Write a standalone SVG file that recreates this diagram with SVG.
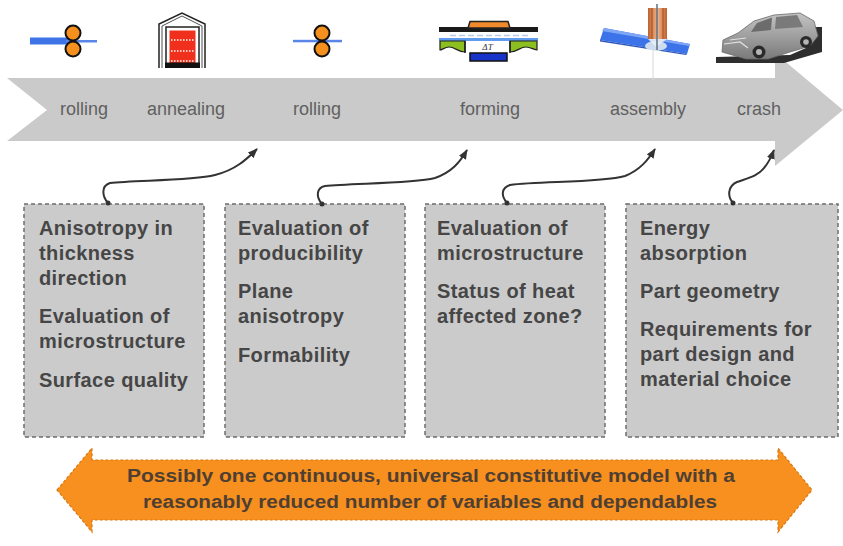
<svg xmlns="http://www.w3.org/2000/svg" width="843" height="546" viewBox="0 0 843 546">
  <style>
    .stage { font-family: "Liberation Sans", Arial, sans-serif; font-size: 18px; fill: #606060; text-anchor: middle; }
    .box { fill: #cbcbcb; stroke: #6e6e6e; stroke-width: 1.5; stroke-dasharray: 4 3; }
    .item { font-family: "Liberation Sans", Arial, sans-serif; font-size: 20px; font-weight: bold; fill: #464646; letter-spacing: 0.4px; }
    .link { fill: none; stroke: #333; stroke-width: 2; marker-end: url(#tip); }
    .roller { fill: #f5901e; stroke: #111; stroke-width: 2; }
    .model { font-family: "Liberation Sans", Arial, sans-serif; font-size: 18px; font-weight: bold; fill: #4f3f33; text-anchor: middle; }
  </style>
  <defs>
    <marker id="tip" viewBox="0 0 10 8" refX="9" refY="4" markerWidth="10" markerHeight="8" markerUnits="userSpaceOnUse" orient="auto">
      <path d="M0,0 L10,4 L0,8 Z" fill="#333"/>
    </marker>
    <linearGradient id="copper" x1="0" x2="1" y1="0" y2="0">
      <stop offset="0" stop-color="#c0602e"/>
      <stop offset="0.5" stop-color="#f0b48a"/>
      <stop offset="1" stop-color="#c0602e"/>
    </linearGradient>
    <linearGradient id="carbody" x1="0" x2="0" y1="0" y2="1">
      <stop offset="0" stop-color="#c4c4c4"/>
      <stop offset="1" stop-color="#7a7a7a"/>
    </linearGradient>
  </defs>

  <!-- process chain arrow -->
  <g id="chain">
    <path d="M7,78 L775,78 L775,53 L843,110 L775,166 L775,141 L7,141 L47,110 Z" fill="#cacaca"/>
    <line x1="653" y1="50" x2="653" y2="80" stroke="#d8d8d8" stroke-width="1"/>
  </g>

  <!-- stage icons -->
  <g id="icon-rolling-1">
    <rect x="30" y="37.5" width="40" height="7" fill="#3f74e6"/>
    <rect x="66" y="40" width="31" height="2.5" fill="#5a86e8"/>
    <circle class="roller" cx="73" cy="33" r="7.5"/>
    <circle class="roller" cx="73" cy="49" r="7.5"/>
  </g>
  <g id="icon-annealing">
    <path d="M159,68 V24 L182,13 L205,24 V68" fill="#fff" stroke="#222" stroke-width="1.5"/>
    <path d="M162,68 V26 L182,16 L202,26 V68" fill="none" stroke="#222" stroke-width="0.8"/>
    <rect x="166" y="27" width="33" height="37" fill="#fff" stroke="#222" stroke-width="1.5"/>
    <rect x="169.5" y="30.5" width="26" height="33" fill="#f0301c"/>
    <g stroke="#fff" stroke-width="1.4" stroke-dasharray="1.5 1.5">
      <line x1="171" y1="40" x2="194" y2="40"/>
      <line x1="171" y1="51" x2="194" y2="51"/>
      <line x1="171" y1="61" x2="194" y2="61"/>
    </g>
    <rect x="165" y="62.5" width="35" height="5.5" fill="#111"/>
  </g>
  <g id="icon-rolling-2">
    <rect x="293" y="39.8" width="49" height="2.5" fill="#5a86e8"/>
    <circle class="roller" cx="322" cy="33" r="7.5"/>
    <circle class="roller" cx="322" cy="49" r="7.5"/>
  </g>
  <g id="icon-forming">
    <rect x="439" y="27" width="99" height="5" fill="#1a1a1a"/>
    <path d="M470,21.5 H508 L510,28 H468 Z" fill="#f08a2a" stroke="#222" stroke-width="1.5"/>
    <rect x="440" y="33" width="97" height="5" fill="#fff"/>
    <line x1="450" y1="35.5" x2="528" y2="35.5" stroke="#b9c8ee" stroke-width="1.5" stroke-dasharray="6 3"/>
    <rect x="439" y="38" width="99" height="3" fill="#5f9cf0"/>
    <path d="M440,41 H465 V52 C458,52 455,47 449,47 C445,47 442,50 440,50 Z" fill="#8cc020" stroke="#222" stroke-width="1.2"/>
    <path d="M537,41 H510 V52 C517,52 520,47 526,47 C530,47 535,50 537,50 Z" fill="#8cc020" stroke="#222" stroke-width="1.2"/>
    <path d="M465,41 V53 M510,41 V53" stroke="#222" stroke-width="1.5"/>
    <text x="487.5" y="50" font-family="Liberation Serif, serif" font-size="9" font-style="italic" fill="#334" text-anchor="middle">ΔT</text>
    <path d="M470,53 H507 V61 H470 Z" fill="#1834c8" stroke="#111" stroke-width="1.5"/>
  </g>
  <g id="icon-assembly">
    <polygon points="604,28 690,44 687,54 600,40" fill="#3d73e8"/>
    <polygon points="604,28 690,44 689,46 602,31" fill="#7ea6f4"/>
    <polygon points="600,40 687,54 686,55 600,41.5" fill="#2a55b8"/>
    <ellipse cx="656" cy="46" rx="11" ry="5" fill="#dde8f0" opacity="0.9"/>
    <rect x="648" y="8" width="19" height="31" fill="url(#copper)"/>
    <path d="M652,8 V39 M663,8 V39" stroke="#a04e22" stroke-width="1"/>
    <path d="M648,39 L656,47 L667,39 Z" fill="#e8eef4" opacity="0.9"/>
    <line x1="657" y1="4" x2="657" y2="50" stroke="#5e7080" stroke-width="1.5"/>
  </g>
  <g id="icon-crash">
    <polygon points="716,57 790,55 806,48 808,27 822,27 822,52 784,63 716,63" fill="#2e2e2e"/>
    <path d="M722,52 L723,40 L738,33 L754,21 L774,15 L800,13 L814,21 L818,36 L810,46 L790,52 L768,59 L746,59 Z" fill="url(#carbody)" stroke="#6a6a6a" stroke-width="0.8"/>
    <path d="M757,23 L772,17.5 L771,30 L751,32 Z" fill="#6c6c6c"/>
    <path d="M776,17 L797,15 L803,27 L775,29 Z" fill="#7a7a7a"/>
    <path d="M724,44 L740,42 L748,48 M730,40 L746,38" stroke="#e0e0e0" stroke-width="1.2" fill="none"/>
    <circle cx="759" cy="52" r="6.5" fill="#2a2a2a"/>
    <circle cx="759" cy="52" r="3" fill="#b5b5b5"/>
    <circle cx="806" cy="42" r="6" fill="#2a2a2a"/>
    <circle cx="806" cy="42" r="2.8" fill="#b5b5b5"/>
  </g>

  <!-- stage labels -->
  <g id="stage-labels" class="stage">
    <text x="84" y="115">rolling</text>
    <text x="186" y="115">annealing</text>
    <text x="317" y="115">rolling</text>
    <text x="490" y="115">forming</text>
    <text x="648" y="115">assembly</text>
    <text x="759" y="115">crash</text>
  </g>

  <!-- requirement boxes -->
  <g id="box-rolling">
    <rect class="box" x="24" y="204" width="180" height="233"/>
    <text class="item" x="39" y="235">Anisotropy in</text>
    <text class="item" x="39" y="260">thickness</text>
    <text class="item" x="39" y="285">direction</text>
    <text class="item" x="39" y="323">Evaluation of</text>
    <text class="item" x="39" y="348">microstructure</text>
    <text class="item" x="39" y="387">Surface quality</text>
  </g>
  <g id="box-forming">
    <rect class="box" x="225" y="204" width="180" height="233"/>
    <text class="item" x="238" y="235">Evaluation of</text>
    <text class="item" x="238" y="260">producibility</text>
    <text class="item" x="238" y="298">Plane</text>
    <text class="item" x="238" y="323">anisotropy</text>
    <text class="item" x="238" y="362">Formability</text>
  </g>
  <g id="box-assembly">
    <rect class="box" x="425" y="204" width="180" height="233"/>
    <text class="item" x="437" y="235">Evaluation of</text>
    <text class="item" x="437" y="260">microstructure</text>
    <text class="item" x="437" y="298">Status of heat</text>
    <text class="item" x="437" y="323">affected zone?</text>
  </g>
  <g id="box-crash">
    <rect class="box" x="626" y="204" width="212" height="233"/>
    <text class="item" x="640" y="235">Energy</text>
    <text class="item" x="640" y="260">absorption</text>
    <text class="item" x="640" y="298">Part geometry</text>
    <text class="item" x="640" y="336">Requirements for</text>
    <text class="item" x="640" y="361">part design and</text>
    <text class="item" x="640" y="386">material choice</text>
  </g>

  <!-- connectors from boxes to the chain -->
  <g id="connectors">
    <path class="link" d="M108,203 C102,196 101,186 110,183 C135,180 190,181 215,175 C235,170 246,160 257,149"/>
    <path class="link" d="M322,204 C316,197 316,188 325,186 C350,183 410,184 435,178 C452,172 460,162 467,150"/>
    <path class="link" d="M507,203 C501,196 501,188 510,185 C540,181 600,183 625,176 C640,170 648,160 655,149"/>
    <path class="link" d="M733,203 C727,196 728,186 737,182 C748,178 758,176 764,168 C769,162 771,158 774,150"/>
    <g fill="#333">
      <circle cx="108" cy="203" r="2.5"/>
      <circle cx="322" cy="204" r="2.5"/>
      <circle cx="507" cy="203" r="2.5"/>
      <circle cx="733" cy="203" r="2.5"/>
    </g>
  </g>

  <!-- common model double arrow -->
  <g id="model">
    <path d="M57,490 L92,448 L92,460 L778,460 L778,448 L812,490 L778,532 L778,520 L92,520 L92,532 Z" fill="#f7901e" stroke="#d87810" stroke-width="1.2" stroke-dasharray="3 2"/>
    <text class="model" x="431" y="482" textLength="608" lengthAdjust="spacingAndGlyphs">Possibly one continuous, universal constitutive model with a</text>
    <text class="model" x="430" y="508" textLength="574" lengthAdjust="spacingAndGlyphs">reasonably reduced number of variables and dependables</text>
  </g>
</svg>
